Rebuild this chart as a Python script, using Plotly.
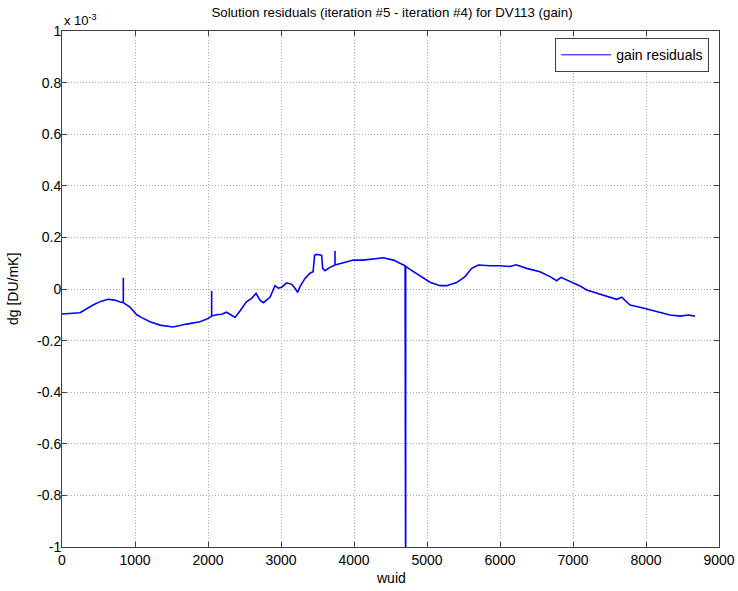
import plotly.graph_objects as go

# ---- data (dg in units of 1e-3 DU/mK) ----
wuid = [0, 100, 247, 425, 530, 630, 720, 817, 840, 840, 840, 930, 1023, 1100, 1205,
        1342, 1520, 1708, 1890, 2005, 2050, 2050, 2050, 2120, 2187, 2256, 2300, 2370,
        2438, 2530, 2598, 2658, 2712, 2758, 2849, 2918, 2963, 3009, 3078, 3146, 3192,
        3228, 3260, 3329, 3397, 3440, 3460, 3480, 3540, 3557, 3571, 3603, 3671, 3740,
        3740, 3740, 3853, 3990, 4128, 4265, 4402, 4539, 4630, 4700, 4708, 4708, 4767,
        4904, 5041, 5178, 5269, 5406, 5521, 5612, 5703, 5863, 6000, 6137, 6219, 6366,
        6548, 6685, 6776, 6836, 6959, 7096, 7187, 7324, 7461, 7598, 7667, 7781, 7918,
        8055, 8192, 8329, 8466, 8580, 8671]
dg = [-0.097, -0.096, -0.092, -0.062, -0.048, -0.040, -0.043, -0.052, -0.052, 0.044, -0.053,
      -0.070, -0.100, -0.112, -0.127, -0.140, -0.147, -0.136, -0.127, -0.114, -0.105, -0.008,
      -0.105, -0.100, -0.098, -0.090, -0.097, -0.110, -0.085, -0.049, -0.036, -0.017, -0.043,
      -0.053, -0.032, 0.013, 0.003, 0.007, 0.024, 0.018, 0.003, -0.013, 0.009, 0.041, 0.061,
      0.067, 0.130, 0.134, 0.132, 0.130, 0.080, 0.071, 0.084, 0.093, 0.147, 0.093, 0.102,
      0.112, 0.112, 0.116, 0.121, 0.112, 0.100, 0.090, -1.3, 0.088, 0.076, 0.050, 0.026,
      0.013, 0.013, 0.025, 0.048, 0.080, 0.093, 0.090, 0.090, 0.087, 0.094, 0.080, 0.067,
      0.048, 0.032, 0.045, 0.028, 0.012, -0.004, -0.017, -0.027, -0.040, -0.032, -0.062,
      -0.071, -0.081, -0.090, -0.101, -0.105, -0.101, -0.105]

x_ticks = [0, 1000, 2000, 3000, 4000, 5000, 6000, 7000, 8000, 9000]
x_tick_labels = ["0", "1000", "2000", "3000", "4000", "5000", "6000", "7000", "8000", "9000"]
y_ticks = [-1, -0.8, -0.6, -0.4, -0.2, 0, 0.2, 0.4, 0.6, 0.8, 1]
y_tick_labels = ["-1", "-0.8", "-0.6", "-0.4", "-0.2", "0", "0.2", "0.4", "0.6", "0.8", "1"]

FONT = "Liberation Sans, Arial, Helvetica, sans-serif"
AXCOL = "#404040"

fig = go.Figure()
fig.add_trace(go.Scatter(x=wuid, y=dg, mode="lines", name="gain residuals", showlegend=False,
                         line=dict(color="rgb(0,0,255)", width=1.6)))
# legend entry with a thin line sample, as in the reference
fig.add_trace(go.Scatter(x=[None], y=[None], mode="lines", name="gain residuals",
                         showlegend=True, line=dict(color="rgb(0,0,255)", width=1)))

common = dict(showgrid=True, gridcolor="rgb(170,170,170)", griddash="1px,2px", gridwidth=1,
              showline=True, linecolor=AXCOL, linewidth=1, mirror="ticks",
              ticks="inside", ticklen=5, tickcolor=AXCOL, zeroline=False, automargin=False,
              tickfont=dict(family=FONT, size=14, color="black"))

fig.update_xaxes(range=[0, 9000], tickvals=x_ticks, ticktext=x_tick_labels, **common)
fig.update_yaxes(range=[-1, 1], tickvals=y_ticks, ticktext=y_tick_labels,
                 ticklabelstandoff=-3, **common)

fig.update_layout(
    width=738, height=591,
    margin=dict(l=62, r=19, t=31, b=44, autoexpand=False),
    paper_bgcolor="white", plot_bgcolor="white",
    font=dict(family=FONT, size=14, color="black"),
    title=dict(text="Solution residuals (iteration #5 - iteration #4) for DV113 (gain)",
               x=392 / 738, xanchor="center", y=1 - 12 / 591, yanchor="middle",
               font=dict(family=FONT, size=13.3, color="black")),
    showlegend=True,
    legend=dict(x=0.985, xanchor="right", y=0.986, yanchor="top",
                bgcolor="white", bordercolor=AXCOL, borderwidth=1, itemwidth=50,
                tracegroupgap=0,
                font=dict(family=FONT, size=14, color="black")),
    annotations=[
        dict(text="x 10<sup>-3</sup>", xref="paper", yref="paper", x=0.0, y=1.0,
             xanchor="left", yanchor="bottom", showarrow=False, yshift=1,
             font=dict(family=FONT, size=13, color="black")),
        dict(text="dg [DU/mK]", xref="paper", yref="paper", x=(13 - 62) / 657, y=0.5,
             xanchor="center", yanchor="middle", textangle=-90, showarrow=False,
             font=dict(family=FONT, size=14, color="black")),
        dict(text="wuid", xref="paper", yref="paper", x=0.5, y=-(578 - 547) / 516,
             xanchor="center", yanchor="middle", showarrow=False,
             font=dict(family=FONT, size=14, color="black")),
    ],
)

fig.write_html("out.html", config={"displayModeBar": False},
               post_script="document.body.style.margin='0';")
